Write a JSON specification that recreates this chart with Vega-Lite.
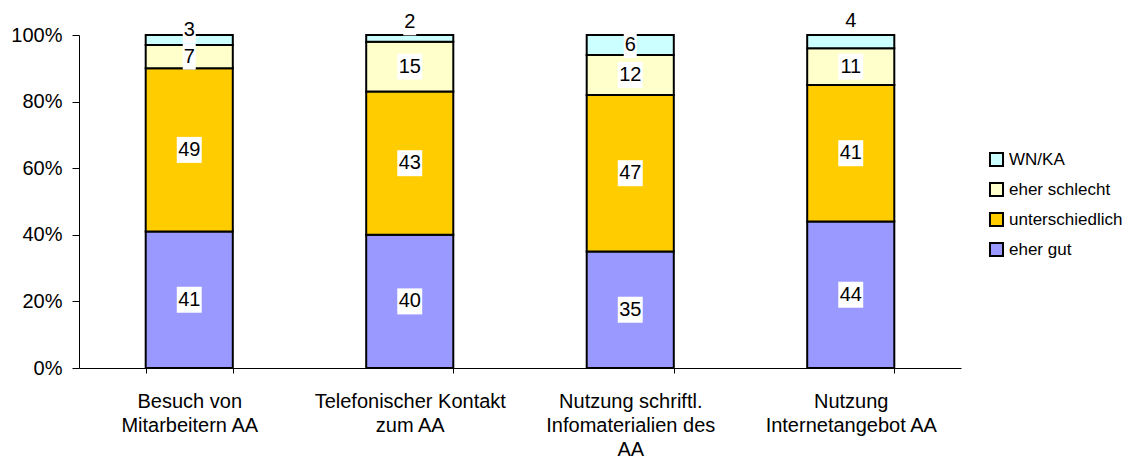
{
  "$schema": "https://vega.github.io/schema/vega-lite/v6.json",
  "autosize": {"type": "none"},
  "padding": {"left": 79, "top": 35, "right": 172, "bottom": 94},
  "width": 882,
  "height": 333,
  "background": "white",
  "config": {
    "view": {"stroke": null},
    "font": "Liberation Sans",
    "axis": {"labelFont": "Liberation Sans", "labelColor": "black", "domainColor": "black", "tickColor": "black", "domainWidth": 1, "tickWidth": 1, "grid": false}
  },
  "data": {
    "values": [
      {"cat": "Besuch von Mitarbeitern AA", "resp": "eher gut", "k": 1, "value": 41},
      {"cat": "Besuch von Mitarbeitern AA", "resp": "unterschiedlich", "k": 2, "value": 49},
      {"cat": "Besuch von Mitarbeitern AA", "resp": "eher schlecht", "k": 3, "value": 7},
      {"cat": "Besuch von Mitarbeitern AA", "resp": "WN/KA", "k": 4, "value": 3},
      {"cat": "Telefonischer Kontakt zum AA", "resp": "eher gut", "k": 1, "value": 40},
      {"cat": "Telefonischer Kontakt zum AA", "resp": "unterschiedlich", "k": 2, "value": 43},
      {"cat": "Telefonischer Kontakt zum AA", "resp": "eher schlecht", "k": 3, "value": 15},
      {"cat": "Telefonischer Kontakt zum AA", "resp": "WN/KA", "k": 4, "value": 2},
      {"cat": "Nutzung schriftl. Infomaterialien des AA", "resp": "eher gut", "k": 1, "value": 35},
      {"cat": "Nutzung schriftl. Infomaterialien des AA", "resp": "unterschiedlich", "k": 2, "value": 47},
      {"cat": "Nutzung schriftl. Infomaterialien des AA", "resp": "eher schlecht", "k": 3, "value": 12},
      {"cat": "Nutzung schriftl. Infomaterialien des AA", "resp": "WN/KA", "k": 4, "value": 6},
      {"cat": "Nutzung Internetangebot AA", "resp": "eher gut", "k": 1, "value": 44},
      {"cat": "Nutzung Internetangebot AA", "resp": "unterschiedlich", "k": 2, "value": 41},
      {"cat": "Nutzung Internetangebot AA", "resp": "eher schlecht", "k": 3, "value": 11},
      {"cat": "Nutzung Internetangebot AA", "resp": "WN/KA", "k": 4, "value": 4}
    ]
  },
  "transform": [
    {"stack": "value", "groupby": ["cat"], "sort": [{"field": "k", "order": "ascending"}], "as": ["y0", "y1"]},
    {"calculate": "(datum.y0 + datum.y1) / 2", "as": "mid"}
  ],
  "encoding": {
    "x": {
      "field": "cat", "type": "nominal", "sort": null,
      "scale": {"paddingInner": 0.605, "paddingOuter": 0.3025},
      "axis": {
        "title": null, "labelAngle": 0, "tickBand": "extent", "tickSize": 5, "labelLimit": 0,
        "labelFontSize": 20, "labelPadding": 18, "labelLineHeight": 24, "labelBaseline": "top",
        "labelExpr": "datum.value == 'Besuch von Mitarbeitern AA' ? ['Besuch von', 'Mitarbeitern AA'] : datum.value == 'Telefonischer Kontakt zum AA' ? ['Telefonischer Kontakt', 'zum AA'] : datum.value == 'Nutzung schriftl. Infomaterialien des AA' ? ['Nutzung schriftl.', 'Infomaterialien des', 'AA'] : datum.value == 'Nutzung Internetangebot AA' ? ['Nutzung', 'Internetangebot AA'] : ''"
      }
    }
  },
  "layer": [
    {
      "mark": {"type": "bar", "stroke": "black", "strokeWidth": 2},
      "encoding": {
        "y": {"field": "y0", "type": "quantitative", "scale": {"domain": [0, 100]},
          "axis": {"title": null, "values": [0, 20, 40, 60, 80, 100], "labelExpr": "datum.value + '%'", "labelFontSize": 20, "tickSize": 7, "labelPadding": 10}},
        "y2": {"field": "y1"},
        "color": {
          "field": "resp", "type": "nominal",
          "scale": {"domain": ["WN/KA", "eher schlecht", "unterschiedlich", "eher gut"], "range": ["#CCFFFF", "#FFFFCC", "#FFCC00", "#9999FF"]},
          "legend": {
            "title": null, "orient": "none", "legendX": 909, "legendY": 116,
            "symbolType": "square", "symbolSize": 170, "symbolStrokeColor": "black", "symbolStrokeWidth": 2,
            "labelFont": "Liberation Sans", "labelFontSize": 17, "labelColor": "black", "labelOffset": 4, "rowPadding": 7
          }
        }
      }
    },
    {
      "mark": {"type": "point", "filled": true, "color": "white", "opacity": 1, "strokeWidth": 0},
      "encoding": {
        "y": {"field": "mid", "type": "quantitative"},
        "size": {"value": 676},
        "shape": {
          "condition": [
            {"test": "datum.value == 2", "value": "M-0.5,-2.23H0.5V-0.23H-0.5Z"},
            {"test": "datum.value == 3", "value": "M-0.5,-1.77H0.5V0.23H-0.5Z"},
            {"test": "datum.value == 4", "value": "M-0.5,-2.62H0.5V-0.62H-0.5Z"},
            {"test": "datum.value < 10", "value": "M-0.5,-1H0.5V1H-0.5Z"}
          ],
          "value": "M-0.96,-1H0.96V1H-0.96Z"
        }
      }
    },
    {
      "transform": [{"filter": "datum.value >= 5"}],
      "mark": {"type": "text", "fontSize": 20, "font": "Liberation Sans", "color": "black", "baseline": "middle"},
      "encoding": {
        "y": {"field": "mid", "type": "quantitative"},
        "text": {"field": "value", "type": "quantitative"}
      }
    },
    {
      "transform": [{"filter": "datum.value == 3"}],
      "mark": {"type": "text", "fontSize": 20, "font": "Liberation Sans", "color": "black", "baseline": "middle", "dy": -10},
      "encoding": {
        "y": {"field": "mid", "type": "quantitative"},
        "text": {"field": "value", "type": "quantitative"}
      }
    },
    {
      "transform": [{"filter": "datum.value == 2"}],
      "mark": {"type": "text", "fontSize": 20, "font": "Liberation Sans", "color": "black", "baseline": "middle", "dy": -16},
      "encoding": {
        "y": {"field": "mid", "type": "quantitative"},
        "text": {"field": "value", "type": "quantitative"}
      }
    },
    {
      "transform": [{"filter": "datum.value == 4"}],
      "mark": {"type": "text", "fontSize": 20, "font": "Liberation Sans", "color": "black", "baseline": "middle", "dy": -21},
      "encoding": {
        "y": {"field": "mid", "type": "quantitative"},
        "text": {"field": "value", "type": "quantitative"}
      }
    }
  ]
}
